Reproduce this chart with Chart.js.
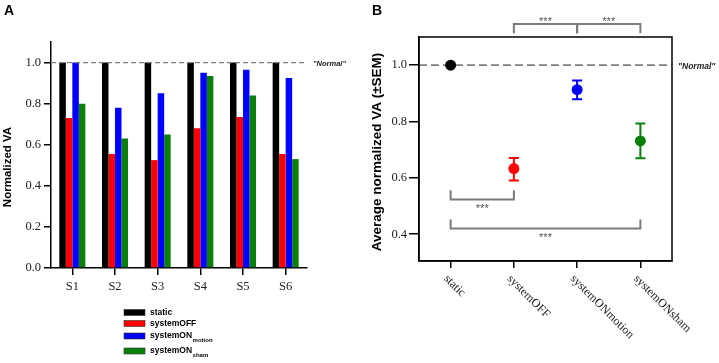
<!DOCTYPE html>
<html>
<head>
<meta charset="utf-8">
<script src="https://cdn.jsdelivr.net/npm/chart.js@4.4.1/dist/chart.umd.min.js"></script>
<style>
  html, body { margin: 0; padding: 0; background: #fff; }
  #wrap { position: relative; width: 719px; height: 363px; }
  #wrapA { position: absolute; left: 0; top: 0; width: 360px; height: 363px; }
  #wrapB { position: absolute; left: 360px; top: 0; width: 359px; height: 363px; }
</style>
</head>
<body>
<div id="wrap">
  <div id="wrapA"><canvas id="chartA"></canvas></div>
  <div id="wrapB"><canvas id="chartB"></canvas></div>
</div>
<script>
/*############################## DATOS PANEL A ##############################*/
const subjects = ["S1", "S2", "S3", "S4", "S5", "S6"];
const staticVA = [1.0, 1.0, 1.0, 1.0, 1.0, 1.0];
const systemOffVA = [0.73, 0.555, 0.525, 0.68, 0.735, 0.555];
const systemOnMotionVA = [1.0, 0.78, 0.85, 0.95, 0.965, 0.925];
const systemOnShamVA = [0.80, 0.63, 0.65, 0.935, 0.84, 0.53];
const yTicksA = [0, 0.2, 0.4, 0.6, 0.8, 1.0];
const legendNames = ["static", "systemOFF", "systemON", "systemON"];
const legendSubs = ["", "", "motion", "sham"];

/*############################## DATOS PANEL B ##############################*/
const conditions = ["static", "systemOFF", "systemONmotion", "systemONsham"];
const meanVA = [1.0, 0.633, 0.913, 0.731];
const semLow = [1.0, 0.591, 0.879, 0.670];
const semHigh = [1.0, 0.671, 0.946, 0.793];
const yTicksB = [0.4, 0.6, 0.8, 1.0];
const normalLevel = 1.0;
// corchetes de significancia
const bracketFrom = [1, 2, 0, 0];
const bracketTo = [2, 3, 1, 3];
const bracketY = [1.146, 1.146, 0.523, 0.42];
const bracketTip = [1.113, 1.113, 0.556, 0.452];
const bracketText = ["***", "***", "***", "***"];

const colors = ["#000000", "#ff0000", "#0000ff", "#0a800a"];
const serif = "'Liberation Serif', 'Times New Roman', serif";
const sans = "'Liberation Sans', Arial, sans-serif";

Chart.defaults.animation = false;
Chart.defaults.font.family = serif;
Chart.defaults.color = "#222";

function rotatedText(ctx, text, x, y, angle, font, color, align) {
	ctx.save();
	ctx.translate(x, y);
	ctx.rotate(angle);
	ctx.font = font;
	ctx.fillStyle = color;
	ctx.textAlign = align || "center";
	ctx.textBaseline = "middle";
	ctx.fillText(text, 0, 0);
	ctx.restore();
}

function dashedNormal(chart, fontSize) {
	const ctx = chart.ctx;
	const area = chart.chartArea;
	const yPix = chart.scales.y.getPixelForValue(normalLevel);
	ctx.save();
	ctx.strokeStyle = "#808080";
	ctx.lineWidth = fontSize > 7.5 ? 1.8 : 1.3;
	ctx.setLineDash(fontSize > 7.5 ? [8, 4] : [5, 3]);
	ctx.beginPath();
	ctx.moveTo(area.left, yPix);
	ctx.lineTo(area.right, yPix);
	ctx.stroke();
	ctx.restore();
	ctx.save();
	ctx.font = "italic bold " + fontSize + "px " + sans;
	ctx.fillStyle = "#222";
	ctx.textBaseline = "middle";
	ctx.fillText("\"Normal\"", area.right + 6, yPix + 1);
	ctx.restore();
}

const axisGrid = { display: true, drawOnChartArea: false, drawTicks: true, offset: false, color: "#000", lineWidth: 1.5 };
const axisBorder = { display: true, color: "#000", width: 1.5 };

/*############################## PANEL A ##############################*/
const panelAExtras = {
	id: "panelAExtras",
	afterDatasetsDraw(chart) {
		dashedNormal(chart, 7.5);
	},
	afterDraw(chart) {
		const ctx = chart.ctx;
		rotatedText(ctx, "A", 9, 11, 0, "bold 14px " + sans, "#000");
		rotatedText(ctx, "Normalized VA", 8, 167, -Math.PI / 2, "bold 11.5px " + sans, "#000");
		// leyenda
		const rows = [312.5, 323.5, 336, 351];
		ctx.save();
		for (let i = 0; i < legendNames.length; i++) {
			ctx.fillStyle = colors[i];
			ctx.fillRect(124, rows[i] - 3, 21, 6);
			ctx.strokeStyle = "#333";
			ctx.lineWidth = 0.6;
			ctx.strokeRect(124, rows[i] - 3, 21, 6);
			ctx.fillStyle = "#000";
			ctx.font = "bold 8.5px " + sans;
			ctx.textBaseline = "middle";
			ctx.textAlign = "left";
			ctx.fillText(legendNames[i], 150, rows[i]);
			if (legendSubs[i]) {
				const w = ctx.measureText(legendNames[i]).width;
				ctx.font = "bold 6px " + sans;
				ctx.fillText(legendSubs[i], 150 + w + 0.5, rows[i] + 4);
			}
		}
		ctx.restore();
	}
};

const chartA = new Chart(document.getElementById("chartA"), {
	type: "bar",
	data: {
		labels: subjects,
		datasets: [
			{ label: "static", data: staticVA, backgroundColor: colors[0] },
			{ label: "systemOFF", data: systemOffVA, backgroundColor: colors[1] },
			{ label: "systemONmotion", data: systemOnMotionVA, backgroundColor: colors[2] },
			{ label: "systemONsham", data: systemOnShamVA, backgroundColor: colors[3] },
		],
	},
	options: {
		responsive: true,
		maintainAspectRatio: false,
		layout: { padding: { left: 0, right: 53, top: 42, bottom: 0 } },
		datasets: { bar: { barPercentage: 1, categoryPercentage: 0.61, borderWidth: 0 } },
		plugins: { legend: { display: false }, tooltip: { enabled: false } },
		scales: {
			x: {
				grid: Object.assign({}, axisGrid, { tickLength: 7 }),
				border: axisBorder,
				ticks: { font: { size: 12.5 }, color: "#222", padding: 4, maxRotation: 0 },
				afterFit: (s) => { s.height = 95; },
			},
			y: {
				min: 0,
				max: 1.1,
				afterBuildTicks: (s) => { s.ticks = yTicksA.map((v) => ({ value: v })); },
				grid: Object.assign({}, axisGrid, { tickLength: 7 }),
				border: axisBorder,
				ticks: { font: { size: 12.5 }, color: "#222", padding: 3, callback: (v) => Number(v).toFixed(1) },
				afterFit: (s) => { s.width = 51; },
			},
		},
	},
	plugins: [panelAExtras],
});

/*############################## PANEL B ##############################*/
const panelBExtras = {
	id: "panelBExtras",
	beforeDatasetsDraw(chart) {
		const ctx = chart.ctx;
		const xs = chart.scales.x;
		const ys = chart.scales.y;
		dashedNormal(chart, 8.5);
		// barras de error
		ctx.save();
		ctx.lineWidth = 2;
		for (let i = 0; i < conditions.length; i++) {
			if (semHigh[i] - semLow[i] <= 0) continue;
			const x = xs.getPixelForValue(i);
			const y1 = ys.getPixelForValue(semHigh[i]);
			const y2 = ys.getPixelForValue(semLow[i]);
			ctx.strokeStyle = colors[i];
			ctx.beginPath();
			ctx.moveTo(x, y1); ctx.lineTo(x, y2);
			ctx.moveTo(x - 5, y1); ctx.lineTo(x + 5, y1);
			ctx.moveTo(x - 5, y2); ctx.lineTo(x + 5, y2);
			ctx.stroke();
		}
		ctx.restore();
	},
	afterDraw(chart) {
		const ctx = chart.ctx;
		const area = chart.chartArea;
		const xs = chart.scales.x;
		const ys = chart.scales.y;
		// marco
		ctx.save();
		ctx.strokeStyle = "#000";
		ctx.lineWidth = 1.5;
		ctx.strokeRect(area.left, area.top, area.right - area.left, area.bottom - area.top);
		ctx.restore();
		// corchetes
		ctx.save();
		ctx.strokeStyle = "#7a7a7a";
		ctx.lineWidth = 2;
		for (let i = 0; i < bracketFrom.length; i++) {
			const x1 = xs.getPixelForValue(bracketFrom[i]);
			const x2 = xs.getPixelForValue(bracketTo[i]);
			const yl = ys.getPixelForValue(bracketY[i]);
			const yt = ys.getPixelForValue(bracketTip[i]);
			ctx.beginPath();
			ctx.moveTo(x1, yt); ctx.lineTo(x1, yl); ctx.lineTo(x2, yl); ctx.lineTo(x2, yt);
			ctx.stroke();
			ctx.fillStyle = "#555";
			ctx.font = "11px " + sans;
			ctx.textAlign = "center";
			ctx.textBaseline = "alphabetic";
			const above = bracketTip[i] < bracketY[i];
			ctx.fillText(bracketText[i], (x1 + x2) / 2, above ? yl + 1 : yl + 12);
		}
		ctx.restore();
		// etiquetas x rotadas
		for (let i = 0; i < conditions.length; i++) {
			const x = xs.getPixelForValue(i) - 5;
			rotatedText(ctx, conditions[i], x, area.bottom + 16, Math.PI / 4, "12px " + serif, "#222", "left");
		}
		rotatedText(ctx, "B", 17, 11, 0, "bold 14px " + sans, "#000");
		rotatedText(ctx, "Average normalized VA (\u00B1SEM)", 17, 152, -Math.PI / 2, "bold 13.5px " + sans, "#000");
	}
};

const chartB = new Chart(document.getElementById("chartB"), {
	type: "line",
	data: {
		labels: conditions,
		datasets: [
			{
				label: "Average normalized VA",
				data: meanVA,
				showLine: false,
				pointRadius: 5.5,
				pointBorderWidth: 0,
				pointBackgroundColor: colors,
				pointBorderColor: colors,
			},
		],
	},
	options: {
		responsive: true,
		maintainAspectRatio: false,
		layout: { padding: { left: 0, right: 47, top: 37, bottom: 0 } },
		plugins: { legend: { display: false }, tooltip: { enabled: false } },
		scales: {
			x: {
				offset: true,
				grid: Object.assign({}, axisGrid, { tickLength: 7 }),
				border: axisBorder,
				ticks: { display: false },
				afterFit: (s) => { s.height = 102; },
			},
			y: {
				min: 0.305,
				max: 1.1,
				afterBuildTicks: (s) => { s.ticks = yTicksB.map((v) => ({ value: v })); },
				grid: Object.assign({}, axisGrid, { tickLength: 10 }),
				border: axisBorder,
				ticks: { font: { size: 12.5 }, color: "#222", padding: 2, callback: (v) => Number(v).toFixed(1) },
				afterFit: (s) => { s.width = 59; },
			},
		},
	},
	plugins: [panelBExtras],
});
</script>
</body>
</html>
